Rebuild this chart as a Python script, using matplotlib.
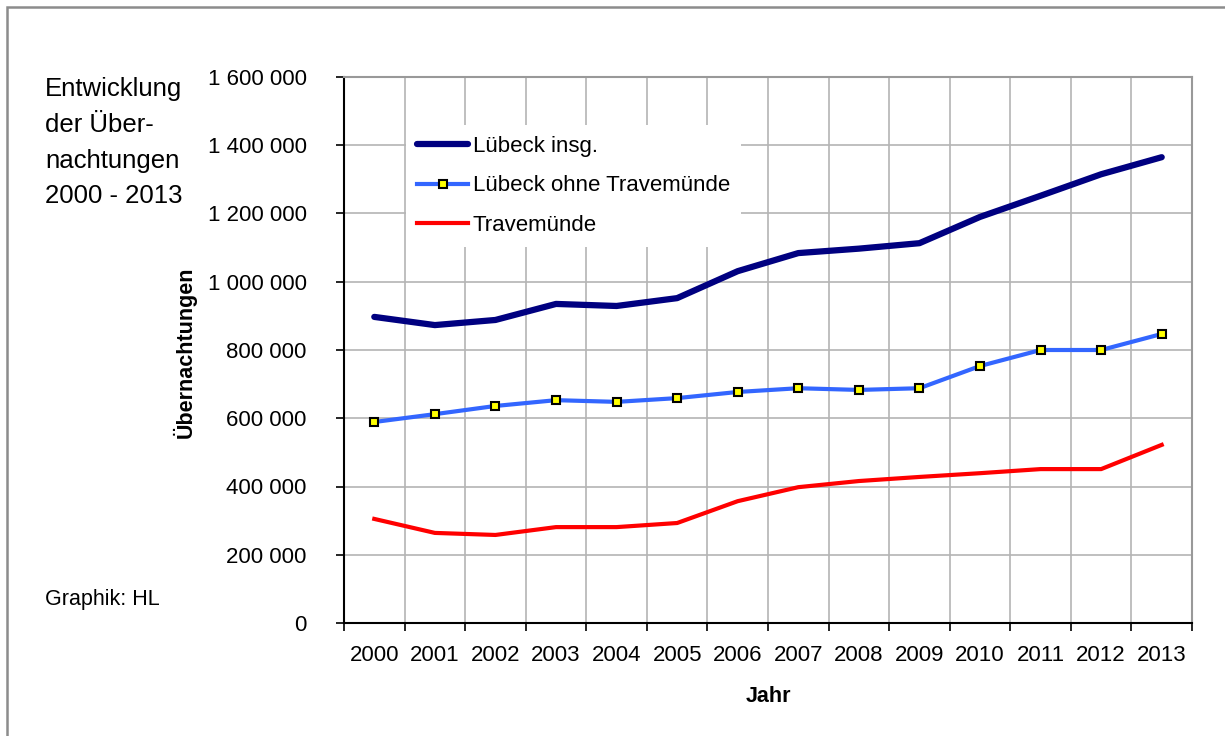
import numpy as np
import matplotlib
matplotlib.use('Agg')
import matplotlib.pyplot as plt
from matplotlib.patches import Rectangle
from matplotlib.ticker import FuncFormatter

plt.rcParams['font.family'] = ['Liberation Sans', 'DejaVu Sans']

# Übernachtungen je Jahr
jahre = [2000, 2001, 2002, 2003, 2004, 2005, 2006,
         2007, 2008, 2009, 2010, 2011, 2012, 2013]
luebeck_insg = [897000, 873000, 888000, 935000, 929000, 952000, 1031000,
                1084000, 1097000, 1113000, 1190000, 1252000, 1315000, 1365000]
luebeck_ohne_tm = [589000, 612000, 636000, 653000, 648000, 659000, 677000,
                   688000, 683000, 688000, 753000, 800000, 800000, 847000]
travemuende = [305000, 264000, 258000, 281000, 281000, 293000, 357000,
               398000, 416000, 428000, 439000, 451000, 451000, 522000]

W, H = 1225, 736
fig = plt.figure(figsize=(W / 100, H / 100), dpi=100)

# Achsenbereich in Pixeln
x0, x1, y0, y1 = 344, 1192, 77, 623
ax = fig.add_axes([x0 / W, 1 - y1 / H, (x1 - x0) / W, (y1 - y0) / H])

x = np.arange(len(jahre))
ax.plot(x, luebeck_insg, color='#000080', lw=4.5, solid_capstyle='round',
        label='Lübeck insg.', zorder=3)
ax.plot(x, luebeck_ohne_tm, color='#3366FF', lw=3, marker='s', markersize=6,
        markerfacecolor='#FFFF00', markeredgecolor='black', markeredgewidth=1.5,
        label='Lübeck ohne Travemünde', zorder=3)
ax.plot(x, travemuende, color='#FF0000', lw=3, label='Travemünde', zorder=3)

ax.set_xlim(-0.5, len(jahre) - 0.5)
ax.set_ylim(0, 1600000)
ax.set_yticks(np.arange(0, 1600001, 200000))
ax.yaxis.set_major_formatter(FuncFormatter(lambda v, p: f'{int(v):,}'.replace(',', ' ')))

# Ticks an den Kategoriegrenzen, Beschriftung in der Mitte
ax.set_xticks(np.arange(-0.5, len(jahre)), labels=[])
ax.set_xticks(x, minor=True)
ax.set_xticklabels([str(j) for j in jahre], minor=True)
ax.tick_params(axis='x', which='minor', length=0, labelsize=16, pad=16)
ax.tick_params(axis='x', which='major', length=6, width=1.2, color='black')
ax.tick_params(axis='y', length=6, width=1.2, labelsize=16, pad=21)

ax.grid(True, which='major', color='#b4b4b4', lw=1.2)
ax.set_axisbelow(True)
for s in ['left', 'bottom']:
    ax.spines[s].set_color('black')
    ax.spines[s].set_linewidth(1.5)
for s in ['top', 'right']:
    ax.spines[s].set_color('#999999')
    ax.spines[s].set_linewidth(1.5)

leg = ax.legend(loc='upper left', bbox_to_anchor=(406 / W, 1 - 125 / H),
                bbox_transform=fig.transFigure, fontsize=16, frameon=True,
                fancybox=False, edgecolor='none', facecolor='white', framealpha=1,
                handlelength=2.3, handletextpad=0.2, labelspacing=0.82,
                borderpad=0.5, borderaxespad=0)
leg.set_zorder(5)

fig.text(45 / W, 1 - 77 / H, 'Entwicklung\nder Über-\nnachtungen\n2000 - 2013',
         fontsize=18.5, va='top', ha='left', linespacing=1.62)
fig.text(45 / W, 1 - 600 / H, 'Graphik: HL', fontsize=15.5, va='center', ha='left')
fig.text(185 / W, 1 - 352 / H, 'Übernachtungen', fontsize=15.5, fontweight='bold',
         rotation=90, va='center', ha='center')
fig.text(768 / W, 1 - 697 / H, 'Jahr', fontsize=15.5, fontweight='bold',
         va='center', ha='center')

# Rahmen um die Grafik
fig.patches.append(Rectangle((7 / W, -0.1), 2, 1.1 - 7 / H, transform=fig.transFigure,
                             fill=False, edgecolor='#8c8c8c', lw=1.8))

fig.savefig('out.png', dpi=100)
